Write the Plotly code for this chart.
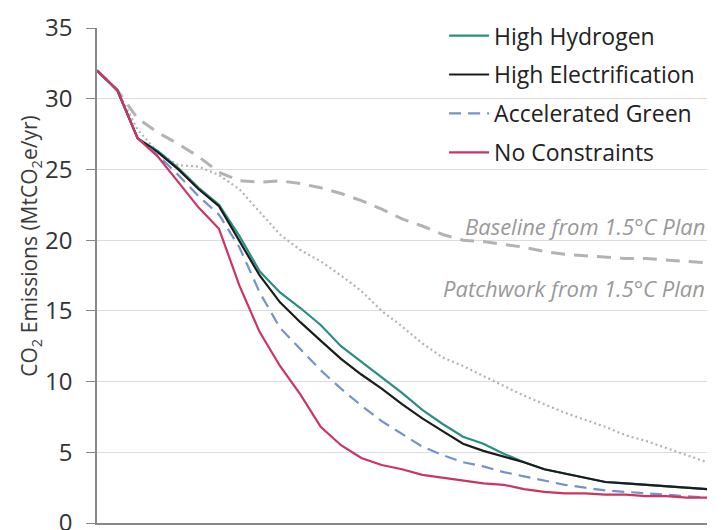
import plotly.graph_objects as go

years = list(range(2020, 2051))

high_hydrogen = [32.0, 30.6, 27.2, 26.3, 25.1, 23.7, 22.5, 20.3, 17.8, 16.3, 15.2, 14.0, 12.5, 11.4, 10.3, 9.2,
                 8.0, 7.0, 6.1, 5.6, 4.9, 4.3, 3.8, 3.5, 3.2, 2.9, 2.8, 2.7, 2.6, 2.5, 2.4]
high_electrification = [32.0, 30.6, 27.2, 26.2, 25.0, 23.6, 22.4, 20.0, 17.5, 15.6, 14.2, 12.9, 11.6, 10.5, 9.5, 8.4,
                        7.4, 6.5, 5.6, 5.1, 4.7, 4.3, 3.8, 3.5, 3.2, 2.9, 2.8, 2.7, 2.6, 2.5, 2.4]
accelerated_green = [32.0, 30.6, 27.2, 26.0, 24.6, 23.1, 21.8, 19.5, 16.3, 13.8, 12.3, 10.8, 9.5, 8.3, 7.2, 6.3,
                     5.4, 4.8, 4.3, 4.0, 3.6, 3.3, 3.0, 2.7, 2.5, 2.3, 2.2, 2.1, 2.0, 1.9, 1.8]
no_constraints = [32.0, 30.6, 27.2, 25.9, 24.1, 22.3, 20.8, 16.8, 13.5, 11.1, 9.1, 6.8, 5.5, 4.6, 4.1, 3.8,
                  3.4, 3.2, 3.0, 2.8, 2.7, 2.4, 2.2, 2.1, 2.1, 2.0, 2.0, 1.9, 1.9, 1.8, 1.8]
baseline = [32.0, 30.6, 28.6, 27.6, 26.8, 25.9, 24.8, 24.2, 24.1, 24.2, 24.0, 23.7, 23.3, 22.8, 22.2, 21.5,
            21.0, 20.4, 20.0, 19.9, 19.7, 19.5, 19.2, 19.0, 18.9, 18.8, 18.7, 18.7, 18.6, 18.5, 18.4]
patchwork = [32.0, 30.6, 27.8, 26.2, 25.3, 25.2, 24.6, 23.6, 22.0, 20.4, 19.3, 18.5, 17.5, 16.4, 15.0, 13.9,
             12.7, 11.7, 11.1, 10.4, 9.7, 9.0, 8.4, 7.8, 7.3, 6.8, 6.2, 5.8, 5.3, 4.8, 4.3]

y_ticks = [0, 5, 10, 15, 20, 25, 30, 35]

FONT = "Open Sans, sans-serif"

fig = go.Figure()

fig.add_trace(go.Scatter(x=years, y=baseline, mode="lines", showlegend=False,
                         line=dict(color="#b3b3b3", width=3, dash="14px,9px")))
fig.add_trace(go.Scatter(x=years, y=patchwork, mode="lines", showlegend=False,
                         line=dict(color="#b3b3b3", width=2.2, dash="2px,3px")))

series = [
    ("High Hydrogen", high_hydrogen, "#2a8f82", "solid"),
    ("High Electrification", high_electrification, "#1c1c1c", "solid"),
    ("Accelerated Green", accelerated_green, "#7393cf", "12px,7px"),
    ("No Constraints", no_constraints, "#cc3462", "solid"),
]
for i, (name, vals, col, dash) in enumerate(series):
    fig.add_trace(go.Scatter(x=years, y=vals, mode="lines", name=name, legendgroup=f"g{i}",
                             line=dict(color=col, width=2.2, dash=dash)))

fig.add_annotation(x=2050, y=21.0, xref="x", yref="y", text="<i>Baseline from 1.5°C Plan</i>",
                   showarrow=False, xanchor="right", yanchor="middle",
                   font=dict(family=FONT, size=22, color="#999999"))
fig.add_annotation(x=2050, y=16.6, xref="x", yref="y", text="<i>Patchwork from 1.5°C Plan</i>",
                   showarrow=False, xanchor="right", yanchor="middle",
                   font=dict(family=FONT, size=22, color="#999999"))
fig.add_annotation(x=-0.11, y=0.56, xref="paper", yref="paper", textangle=-90,
                   text="CO<sub>2</sub> Emissions (MtCO<sub>2</sub>e/yr)", showarrow=False,
                   xanchor="center", yanchor="middle",
                   font=dict(family=FONT, size=21, color="#3a3a3a"))

fig.update_layout(
    width=714, height=522,
    margin=dict(l=89, r=15, t=20, b=7, autoexpand=False),
    paper_bgcolor="white", plot_bgcolor="white",
    font=dict(family=FONT, color="#333333"),
    legend=dict(x=0.569, y=1.028, xanchor="left", yanchor="top", bgcolor="rgba(0,0,0,0)",
                font=dict(size=23, color="#222222"), traceorder="grouped", tracegroupgap=6,
                itemwidth=40),
    showlegend=True,
)
fig.update_xaxes(range=[2020, 2050], showticklabels=False, showgrid=False, zeroline=False,
                 showline=True, linecolor="#888888", linewidth=1.5, ticks="", automargin=False)
fig.update_yaxes(range=[0, 35], tickvals=y_ticks, showgrid=True, gridcolor="#dcdcdc", gridwidth=1,
                 zeroline=False, showline=True, linecolor="#888888", linewidth=1.5,
                 ticks="outside", ticklen=9, tickcolor="#888888", automargin=False,
                 ticklabelstandoff=9, ticklabeloverflow="allow",
                 tickfont=dict(size=24, color="#333333"))

fig.write_html("out.html")
